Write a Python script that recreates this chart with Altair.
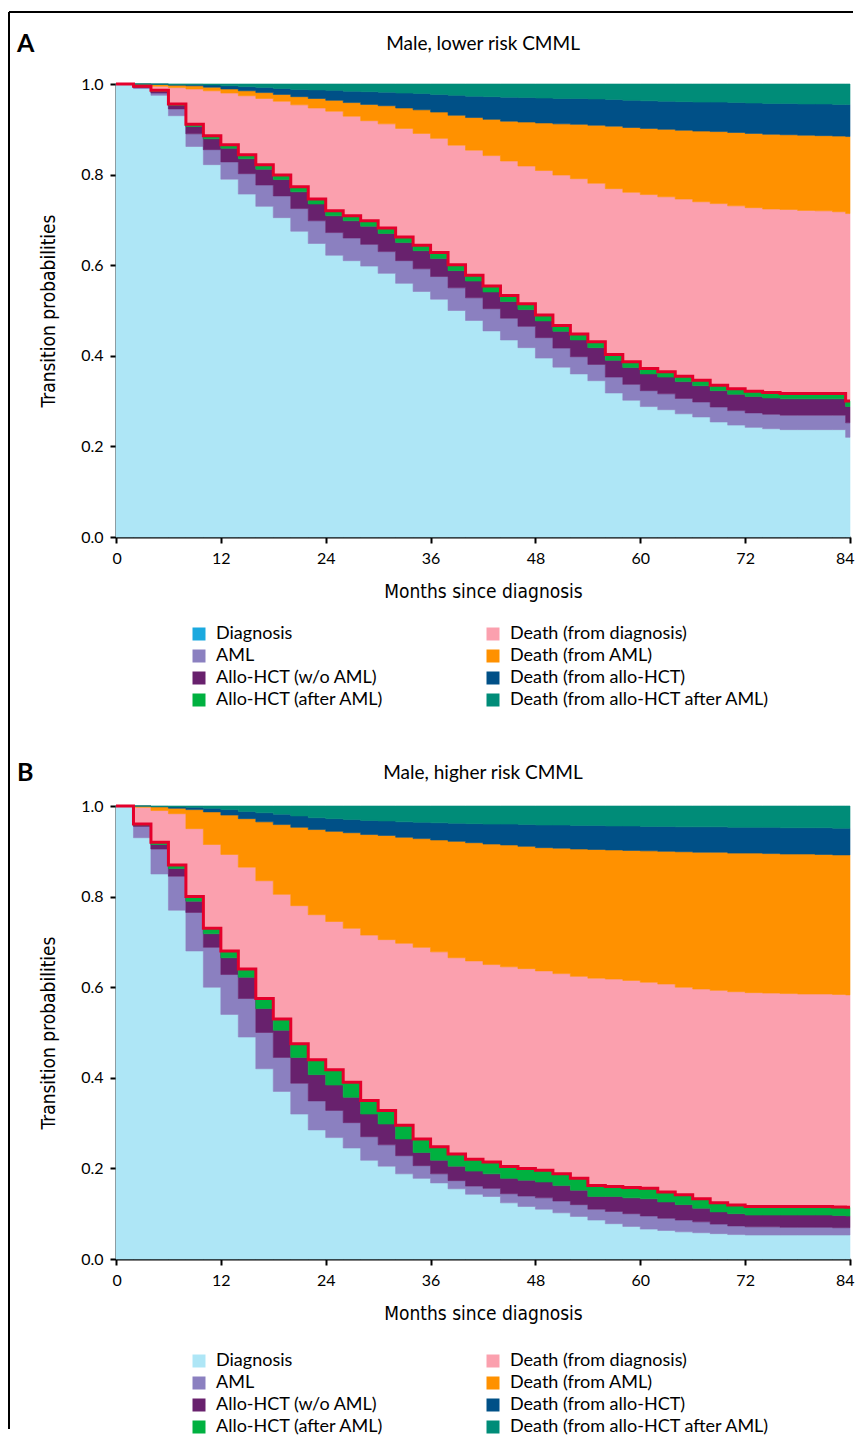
import altair as alt
import pandas as pd

# ---------------- data ----------------
months = [0, 2, 4, 6, 8, 10, 12, 14, 16, 18, 20, 22, 24, 26, 28, 30, 32, 34, 36, 38, 40,
          42, 44, 46, 48, 50, 52, 54, 56, 58, 60, 62, 64, 66, 68, 70, 72, 74, 76, 78, 80,
          82, 83.5, 84]

states = ["Diagnosis", "AML", "Allo-HCT (w/o AML)", "Allo-HCT (after AML)",
          "Death (from diagnosis)", "Death (from AML)", "Death (from allo-HCT)",
          "Death (from allo-HCT after AML)"]

area_colors = {"Diagnosis": "#AEE6F6", "AML": "#8B80C0", "Allo-HCT (w/o AML)": "#68216D",
               "Allo-HCT (after AML)": "#00B140", "Death (from diagnosis)": "#FBA0AE",
               "Death (from AML)": "#FF9100", "Death (from allo-HCT)": "#005087",
               "Death (from allo-HCT after AML)": "#008C78"}

# Panel A : male, lower risk CMML
a_diagnosis = [1.000, 0.990, 0.975, 0.930, 0.862, 0.822, 0.790, 0.757, 0.730, 0.705, 0.675,
               0.648, 0.622, 0.610, 0.598, 0.582, 0.560, 0.542, 0.525, 0.500, 0.478, 0.455,
               0.435, 0.418, 0.395, 0.375, 0.360, 0.345, 0.318, 0.302, 0.288, 0.281, 0.272,
               0.265, 0.254, 0.247, 0.242, 0.239, 0.237, 0.237, 0.237, 0.237, 0.220, 0.220]
a_aml = [0.000, 0.002, 0.005, 0.015, 0.028, 0.033, 0.038, 0.045, 0.047, 0.048, 0.050,
         0.050, 0.050, 0.050, 0.048, 0.048, 0.050, 0.050, 0.050, 0.050, 0.050, 0.049,
         0.048, 0.047, 0.045, 0.042, 0.038, 0.036, 0.035, 0.035, 0.035, 0.035, 0.034,
         0.033, 0.033, 0.032, 0.032, 0.032, 0.032, 0.032, 0.032, 0.032, 0.032, 0.032]
a_hct = [0.000, 0.002, 0.004, 0.008, 0.016, 0.024, 0.030, 0.033, 0.035, 0.036, 0.037,
         0.037, 0.037, 0.038, 0.040, 0.040, 0.040, 0.040, 0.040, 0.038, 0.037, 0.037,
         0.037, 0.037, 0.037, 0.037, 0.037, 0.037, 0.037, 0.037, 0.037, 0.037, 0.037,
         0.036, 0.036, 0.036, 0.036, 0.036, 0.036, 0.036, 0.036, 0.036, 0.036, 0.036]
a_hct_aml = [0.000, 0.001, 0.002, 0.003, 0.005, 0.007, 0.008, 0.009, 0.010, 0.010, 0.011,
             0.011, 0.011, 0.011, 0.012, 0.012, 0.012, 0.012, 0.013, 0.013, 0.013, 0.013,
             0.013, 0.013, 0.013, 0.013, 0.013, 0.013, 0.013, 0.013, 0.012, 0.012, 0.012,
             0.012, 0.012, 0.012, 0.012, 0.012, 0.012, 0.012, 0.012, 0.012, 0.012, 0.012]
a_death_diag = [0.000, 0.003, 0.009, 0.036, 0.078, 0.099, 0.114, 0.130, 0.146, 0.163, 0.181,
                0.201, 0.220, 0.220, 0.221, 0.230, 0.240, 0.247, 0.252, 0.264, 0.276, 0.288,
                0.297, 0.304, 0.319, 0.332, 0.343, 0.350, 0.366, 0.374, 0.384, 0.386, 0.391,
                0.394, 0.401, 0.404, 0.405, 0.405, 0.406, 0.404, 0.403, 0.401, 0.414, 0.414]
a_death_aml = [0.000, 0.002, 0.004, 0.005, 0.007, 0.008, 0.009, 0.011, 0.013, 0.015, 0.018,
               0.021, 0.024, 0.030, 0.036, 0.040, 0.045, 0.052, 0.058, 0.066, 0.072, 0.080,
               0.088, 0.097, 0.105, 0.113, 0.120, 0.128, 0.138, 0.143, 0.146, 0.149, 0.152,
               0.156, 0.159, 0.162, 0.164, 0.165, 0.165, 0.166, 0.166, 0.167, 0.170, 0.170]
a_death_hct = [0.000, 0.000, 0.001, 0.002, 0.003, 0.005, 0.007, 0.009, 0.011, 0.013, 0.016,
               0.019, 0.022, 0.025, 0.028, 0.030, 0.033, 0.036, 0.039, 0.044, 0.047, 0.050,
               0.053, 0.054, 0.055, 0.056, 0.057, 0.058, 0.059, 0.060, 0.061, 0.062, 0.063,
               0.064, 0.065, 0.066, 0.067, 0.068, 0.069, 0.069, 0.070, 0.070, 0.071, 0.071]
a_death_hct_aml = [0.000, 0.000, 0.000, 0.001, 0.001, 0.002, 0.004, 0.006, 0.008, 0.010, 0.012,
                   0.013, 0.014, 0.016, 0.017, 0.018, 0.020, 0.021, 0.023, 0.025, 0.027, 0.028,
                   0.029, 0.030, 0.031, 0.032, 0.032, 0.033, 0.034, 0.036, 0.037, 0.038, 0.039,
                   0.040, 0.040, 0.041, 0.042, 0.043, 0.043, 0.044, 0.044, 0.045, 0.045, 0.045]

# Panel B : male, higher risk CMML
b_diagnosis = [1.000, 0.930, 0.850, 0.770, 0.680, 0.600, 0.540, 0.490, 0.420, 0.370, 0.320,
               0.285, 0.268, 0.245, 0.218, 0.205, 0.188, 0.178, 0.168, 0.155, 0.143, 0.138,
               0.124, 0.116, 0.110, 0.102, 0.094, 0.086, 0.078, 0.072, 0.066, 0.063, 0.060,
               0.058, 0.056, 0.054, 0.053, 0.053, 0.053, 0.053, 0.053, 0.053, 0.053, 0.053]
b_aml = [0.000, 0.025, 0.055, 0.075, 0.085, 0.088, 0.088, 0.085, 0.080, 0.075, 0.068,
         0.064, 0.060, 0.056, 0.052, 0.047, 0.040, 0.028, 0.020, 0.018, 0.018, 0.018,
         0.020, 0.023, 0.025, 0.026, 0.026, 0.024, 0.027, 0.028, 0.029, 0.027, 0.026,
         0.024, 0.021, 0.019, 0.018, 0.018, 0.017, 0.017, 0.017, 0.016, 0.016, 0.016]
b_hct = [0.000, 0.003, 0.010, 0.017, 0.025, 0.030, 0.037, 0.047, 0.053, 0.060, 0.057,
         0.058, 0.056, 0.056, 0.050, 0.046, 0.037, 0.029, 0.030, 0.032, 0.033, 0.032,
         0.034, 0.035, 0.035, 0.034, 0.032, 0.028, 0.033, 0.035, 0.038, 0.036, 0.034,
         0.030, 0.027, 0.027, 0.026, 0.026, 0.027, 0.027, 0.027, 0.027, 0.026, 0.026]
b_hct_aml = [0.000, 0.002, 0.005, 0.008, 0.010, 0.012, 0.015, 0.018, 0.022, 0.025, 0.030,
             0.033, 0.034, 0.033, 0.030, 0.030, 0.030, 0.030, 0.030, 0.027, 0.026, 0.026,
             0.026, 0.026, 0.026, 0.026, 0.026, 0.024, 0.022, 0.023, 0.023, 0.022, 0.022,
             0.021, 0.020, 0.019, 0.019, 0.019, 0.019, 0.019, 0.019, 0.019, 0.019, 0.019]
b_death_diag = [0.000, 0.037, 0.070, 0.113, 0.150, 0.185, 0.213, 0.225, 0.260, 0.275, 0.305,
                0.320, 0.327, 0.340, 0.365, 0.377, 0.402, 0.423, 0.430, 0.433, 0.438, 0.436,
                0.441, 0.441, 0.440, 0.442, 0.446, 0.458, 0.458, 0.457, 0.455, 0.459, 0.458,
                0.463, 0.469, 0.471, 0.472, 0.471, 0.470, 0.469, 0.469, 0.469, 0.469, 0.469]
b_death_aml = [0.000, 0.003, 0.008, 0.012, 0.042, 0.072, 0.087, 0.107, 0.130, 0.154, 0.173,
               0.188, 0.199, 0.211, 0.222, 0.230, 0.234, 0.240, 0.247, 0.257, 0.261, 0.266,
               0.269, 0.270, 0.272, 0.277, 0.281, 0.284, 0.285, 0.287, 0.290, 0.293, 0.299,
               0.302, 0.305, 0.306, 0.308, 0.308, 0.308, 0.309, 0.308, 0.308, 0.309, 0.309]
b_death_hct = [0.000, 0.000, 0.001, 0.003, 0.005, 0.008, 0.012, 0.016, 0.020, 0.023, 0.025,
               0.026, 0.028, 0.029, 0.031, 0.032, 0.034, 0.036, 0.038, 0.040, 0.042, 0.044,
               0.046, 0.048, 0.050, 0.051, 0.052, 0.053, 0.053, 0.054, 0.054, 0.055, 0.055,
               0.056, 0.056, 0.057, 0.057, 0.058, 0.058, 0.058, 0.059, 0.059, 0.059, 0.059]
b_death_hct_aml = [0.000, 0.000, 0.001, 0.002, 0.003, 0.005, 0.008, 0.012, 0.015, 0.018, 0.022,
                   0.026, 0.028, 0.030, 0.032, 0.033, 0.035, 0.036, 0.037, 0.038, 0.039, 0.040,
                   0.040, 0.041, 0.042, 0.042, 0.043, 0.043, 0.044, 0.044, 0.045, 0.045, 0.046,
                   0.046, 0.046, 0.047, 0.047, 0.047, 0.048, 0.048, 0.048, 0.049, 0.049, 0.049]

panel_a = [a_diagnosis, a_aml, a_hct, a_hct_aml, a_death_diag, a_death_aml, a_death_hct, a_death_hct_aml]
panel_b = [b_diagnosis, b_aml, b_hct, b_hct_aml, b_death_diag, b_death_aml, b_death_hct, b_death_hct_aml]
for s in panel_a + panel_b:
    assert len(s) == len(months), len(s)

# ---------------- styling ----------------
FONT = "Lato"
NARROW = "DejaVu Sans Condensed, Liberation Sans Narrow, sans-serif"
RED = "#E4002B"


def axis(title, values, fmt=None, flush=False):
    kw = dict(values=values, title=title, titleFont=NARROW, titleFontSize=19,
              titleFontWeight="normal", titleColor="black", labelFont=FONT,
              labelFontSize=16, labelColor="black", domainColor="black", domainWidth=2,
              tickColor="black", tickWidth=2, tickSize=6, labelPadding=7, grid=False,
              labelFlush=flush)
    if flush:
        kw["labelFlushOffset"] = 4
    if fmt:
        kw["format"] = fmt
    return alt.Axis(**kw)


def panel(letter, title, series, legend_diag_color, title_y, legend_y, frame):
    rows = []
    for k, (name, vals) in enumerate(zip(states, series)):
        for m, v in zip(months, vals):
            rows.append({"month": m, "state": name, "order": k, "p": v})
    df = pd.DataFrame(rows)
    living = pd.DataFrame({"month": months,
                           "living": [sum(vals[i] for vals in series[:4]) for i in range(len(months))]})

    xax = axis("Months since diagnosis", [0, 12, 24, 36, 48, 60, 72, 84], flush=True)
    xax["titlePadding"] = 16
    yax = axis("Transition probabilities", [0, 0.2, 0.4, 0.6, 0.8, 1.0], ".1f")
    yax["titlePadding"] = 22
    xs = alt.Scale(domain=[0, 84], nice=False, zero=False)
    ys = alt.Scale(domain=[0, 1], nice=False, clamp=True)

    rng = [area_colors[s] for s in states]
    leg_rng = [legend_diag_color if s == "Diagnosis" else area_colors[s] for s in states]

    area = alt.Chart(df).mark_area(interpolate="step-after", strokeWidth=0.6).encode(
        x=alt.X("month:Q", scale=xs, axis=xax),
        y=alt.Y("p:Q", stack="zero", scale=ys, axis=yax),
        color=alt.Color("state:N", scale=alt.Scale(domain=states, range=rng), legend=None),
        stroke=alt.Stroke("state:N", scale=alt.Scale(domain=states, range=rng), legend=None),
        order=alt.Order("order:Q", sort="ascending"),
    )
    red = alt.Chart(living).mark_line(interpolate="step-after", color=RED, strokeWidth=3).encode(
        x=alt.X("month:Q", scale=xs, axis=xax),
        y=alt.Y("living:Q", scale=ys, axis=yax),
    )
    leg = alt.Chart(df).mark_square(opacity=0, size=1).encode(
        x=alt.X("month:Q", scale=xs, axis=xax),
        y=alt.Y("p:Q", stack=None, scale=ys, axis=yax),
        color=alt.Color("state:N", scale=alt.Scale(domain=states, range=leg_rng),
                        legend=alt.Legend(orient="none", legendX=74, legendY=legend_y,
                                          columns=2, columnPadding=100, rowPadding=4,
                                          symbolType="square", symbolSize=169,
                                          symbolOpacity=1, symbolStrokeWidth=0,
                                          labelFont=FONT, labelFontSize=18,
                                          labelColor="black", labelOffset=8,
                                          labelLimit=400, title=None, padding=0)),
    )
    tdf = pd.DataFrame({"t": [title]})
    ldf = pd.DataFrame({"t": [letter]})
    ttl = alt.Chart(tdf).mark_text(align="center", baseline="middle", font=FONT,
                                   fontSize=19, color="black").encode(
        x=alt.value(367), y=alt.value(title_y), text="t:N")
    let = alt.Chart(ldf).mark_text(align="left", baseline="middle", font=FONT,
                                   fontSize=25, fontWeight="bold", color="black").encode(
        x=alt.value(-99), y=alt.value(title_y), text="t:N")
    layers = [area, red, leg, ttl, let]
    if frame:
        fdf = pd.DataFrame({"k": [0]})
        top = alt.Chart(fdf).mark_rule(color="black", strokeWidth=2).encode(
            x=alt.value(-107), x2=alt.value(737), y=alt.value(-72))
        left = alt.Chart(fdf).mark_rule(color="black", strokeWidth=2).encode(
            x=alt.value(-107), y=alt.value(-72), y2=alt.value(1345))
        layers += [top, left]
    return alt.layer(*layers).resolve_scale(color="independent").properties(width=734, height=453)


pa = panel("A", "Male, lower risk CMML", panel_a, "#1BA9DF", -40, 541, True)
pb = panel("B", "Male, higher risk CMML", panel_b, "#AEE6F6", -33, 546, False)

chart = alt.vconcat(pa, pb, spacing=269, bounds="flush").resolve_scale(
    color="independent").resolve_legend(color="independent").configure_view(
    strokeWidth=0).properties(padding={"left": 0, "top": 3, "right": 0, "bottom": 0})

chart.save("out.html", embed_options={"renderer": "svg", "actions": False})
